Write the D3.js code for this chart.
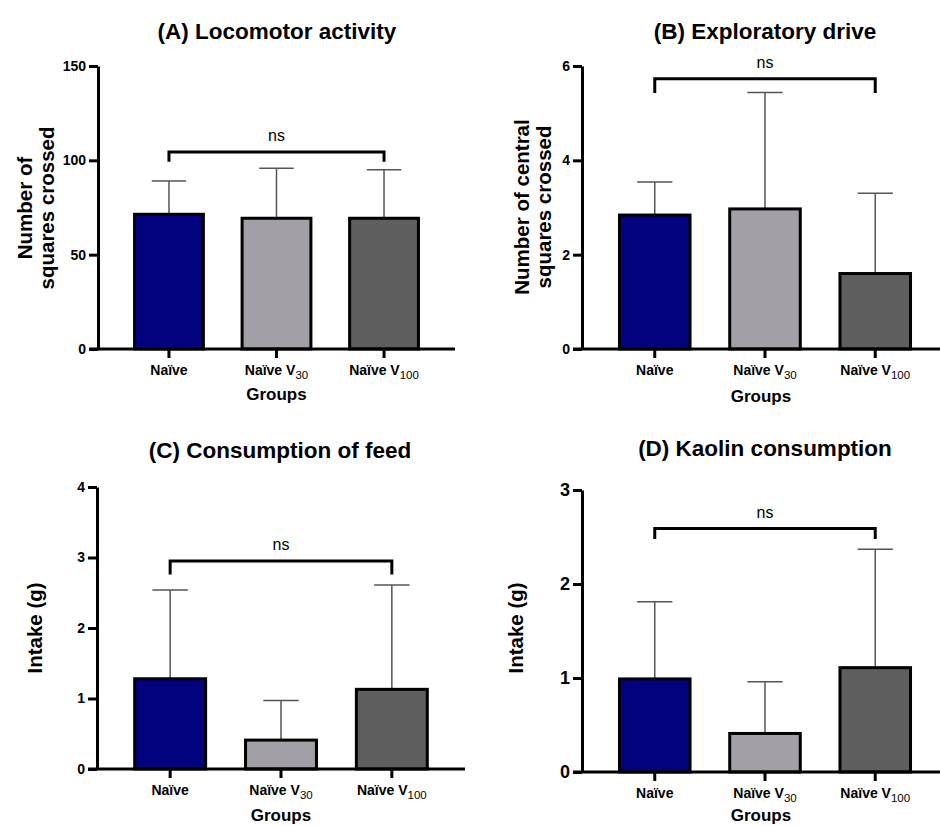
<!DOCTYPE html>
<html>
<head>
<meta charset="utf-8">
<script src="https://cdn.jsdelivr.net/npm/d3@7"></script>
<style>
  body { margin: 0; background: #fff; }
  svg { display: block; font-family: "Liberation Sans", Arial, sans-serif; }
</style>
</head>
<body>
<svg id="svg"></svg>
<script>

var width = 940;
var height = 826;

// groups (label + subscript part)
var groupBase = ["Naïve", "Naïve V", "Naïve V"];
var groupSub = ["", "30", "100"];
var barColors = ["#02027e", "#a39fa6", "#5e5e5e"];

// (A) locomotor activity
var locoMean = [71.4, 69.3, 69.3];
var locoSd = [17.6, 26.5, 25.7];
var locoTicks = [0, 50, 100, 150];

// (B) exploratory drive
var explMean = [2.84, 2.97, 1.60];
var explSd = [0.70, 2.47, 1.70];
var explTicks = [0, 2, 4, 6];

// (C) consumption of feed
var feedMean = [1.28, 0.41, 1.13];
var feedSd = [1.26, 0.56, 1.48];
var feedTicks = [0, 1, 2, 3, 4];

// (D) kaolin consumption
var kaolinMean = [0.99, 0.41, 1.11];
var kaolinSd = [0.82, 0.55, 1.26];
var kaolinTicks = [0, 1, 2, 3];

// ns bracket: [top, bottom of legs] in data units
var locoBracket = [104.4, 99.3];
var explBracket = [5.73, 5.43];
var feedBracket = [2.95, 2.76];
var kaolinBracket = [2.59, 2.48];

var svg = d3.select("#svg").attr("width", width).attr("height", height);

function drawPanel(p) {
    var g = svg.append("g");

    var x = d3.scaleBand()
        .domain(d3.range(groupBase.length))
        .range([p.x0, p.x1])
        .paddingInner(0.36)
        .paddingOuter(0.34);

    var ymax = p.ticks[p.ticks.length - 1];
    var y = d3.scaleLinear().domain([0, ymax]).range([p.y0, p.y1]);

    // title
    g.append("text")
        .attr("x", p.titleX).attr("y", p.titleY)
        .attr("text-anchor", "middle")
        .style("font-size", "22.5px").style("font-weight", "bold")
        .text(p.title);

    // y label (one or two lines)
    p.ylabel.forEach(function(line, i) {
        g.append("text")
            .attr("transform", "translate(" + p.ylabelX[i] + "," + p.ylabelY + ") rotate(-90)")
            .attr("text-anchor", "middle")
            .style("font-size", "20.5px").style("font-weight", "bold")
            .text(line);
    });

    // error bars (behind the bars)
    var err = g.append("g");
    p.mean.forEach(function(m, i) {
        var cx = x(i) + x.bandwidth() / 2;
        var cap = x.bandwidth() * 0.25;
        err.append("line")
            .attr("x1", cx).attr("x2", cx)
            .attr("y1", y(m)).attr("y2", y(m + p.sd[i]))
            .attr("stroke", "#555").attr("stroke-width", 1.5);
        err.append("line")
            .attr("x1", cx - cap).attr("x2", cx + cap)
            .attr("y1", y(m + p.sd[i])).attr("y2", y(m + p.sd[i]))
            .attr("stroke", "#555").attr("stroke-width", 1.5);
    });

    // bars
    g.append("g").selectAll("rect")
        .data(p.mean)
        .join("rect")
        .attr("x", function(d, i) { return x(i); })
        .attr("y", function(d) { return y(d); })
        .attr("width", x.bandwidth())
        .attr("height", function(d) { return y(0) - y(d); })
        .attr("fill", function(d, i) { return barColors[i]; })
        .attr("stroke", "#000")
        .attr("stroke-width", 3);

    // y axis
    var yAxis = g.append("g")
        .attr("transform", "translate(" + p.x0 + ",0)")
        .call(d3.axisLeft(y).tickValues(p.ticks).tickFormat(d3.format("d"))
            .tickSize(9).tickSizeOuter(0).tickPadding(3));
    yAxis.select(".domain").attr("stroke-width", 3);
    yAxis.selectAll(".tick line").attr("stroke-width", 3);
    yAxis.selectAll(".tick text")
        .attr("fill", "#000")
        .style("font-size", p.tickFont + "px").style("font-weight", "bold")
        .style("font-family", "Liberation Sans, Arial, sans-serif");

    // x axis
    var xAxis = g.append("g")
        .attr("transform", "translate(0," + p.y0 + ")")
        .call(d3.axisBottom(x).tickSize(9).tickSizeOuter(0).tickFormat(""));
    xAxis.select(".domain").attr("d", "M" + (p.x0 - 9) + ",0H" + p.x1).attr("stroke-width", 3);
    xAxis.selectAll(".tick line").attr("stroke-width", 3);

    // group labels with subscripts
    groupBase.forEach(function(b, i) {
        var t = g.append("text")
            .attr("x", x(i) + x.bandwidth() / 2)
            .attr("y", p.y0 + p.labelDy)
            .attr("text-anchor", "middle")
            .style("font-size", "14px").style("font-weight", "bold");
        t.append("tspan").text(b);
        if (groupSub[i]) {
            t.append("tspan").attr("dy", 4)
                .style("font-size", "11.5px").style("font-weight", "normal")
                .text(groupSub[i]);
        }
    });

    g.append("text")
        .attr("x", (p.x0 + Math.min(p.x1, width)) / 2)
        .attr("y", p.y0 + p.groupsDy)
        .attr("text-anchor", "middle")
        .style("font-size", "17px").style("font-weight", "bold")
        .text("Groups");

    // ns bracket between first and last group
    var bx0 = x(0) + x.bandwidth() / 2;
    var bx1 = x(2) + x.bandwidth() / 2;
    g.append("path")
        .attr("d", "M" + bx0 + "," + y(p.bracket[1]) + "V" + y(p.bracket[0]) +
                   "H" + bx1 + "V" + y(p.bracket[1]))
        .attr("fill", "none").attr("stroke", "#000").attr("stroke-width", 3);
    g.append("text")
        .attr("x", (bx0 + bx1) / 2)
        .attr("y", y(p.bracket[0]) - 11)
        .attr("text-anchor", "middle")
        .style("font-size", "16px")
        .text("ns");
}

drawPanel({
    title: "(A) Locomotor activity", titleX: 277, titleY: 39,
    ylabel: ["Number of", "squares crossed"], ylabelX: [32, 54], ylabelY: 208,
    mean: locoMean, sd: locoSd, ticks: locoTicks, bracket: locoBracket,
    x0: 98, x1: 455, y0: 349, y1: 66, tickFont: 14,
    labelDy: 26, groupsDy: 51
});

drawPanel({
    title: "(B) Exploratory drive", titleX: 765, titleY: 39,
    ylabel: ["Number of central", "squares crossed"], ylabelX: [529, 551], ylabelY: 207,
    mean: explMean, sd: explSd, ticks: explTicks, bracket: explBracket,
    x0: 582, x1: 948, y0: 349, y1: 66, tickFont: 14,
    labelDy: 26, groupsDy: 53
});

drawPanel({
    title: "(C) Consumption of feed", titleX: 280, titleY: 458,
    ylabel: ["Intake (g)"], ylabelX: [42], ylabelY: 628,
    mean: feedMean, sd: feedSd, ticks: feedTicks, bracket: feedBracket,
    x0: 97, x1: 465, y0: 769, y1: 487, tickFont: 14,
    labelDy: 26, groupsDy: 52
});

drawPanel({
    title: "(D) Kaolin consumption", titleX: 765, titleY: 456,
    ylabel: ["Intake (g)"], ylabelX: [523], ylabelY: 628,
    mean: kaolinMean, sd: kaolinSd, ticks: kaolinTicks, bracket: kaolinBracket,
    x0: 582, x1: 948, y0: 772, y1: 490, tickFont: 18,
    labelDy: 26, groupsDy: 49
});

</script>
</body>
</html>
